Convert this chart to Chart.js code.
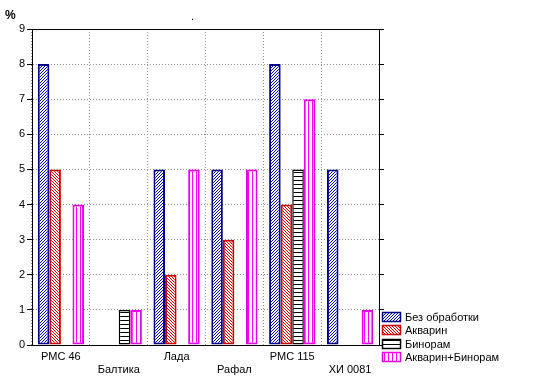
<!DOCTYPE html>
<html><head><meta charset="utf-8">
<script src="https://cdn.jsdelivr.net/npm/chart.js@4/dist/chart.umd.min.js"></script>
<style>html,body{margin:0;padding:0;background:#fff}#w{width:546px;height:383px}</style>
</head><body><div id="w"><canvas id="c"></canvas></div>
<script>
const categories = ['РМС 46', 'Балтика', 'Лада', 'Рафал', 'РМС 115', 'ХИ 0081'];
const seriesNames = ['Без обработки', 'Акварин', 'Бинорам', 'Акварин+Бинорам'];
const bezObrabotki = [8, 0, 5, 5, 8, 5];
const akvarin = [5, 0, 2, 3, 4, 0];
const binoram = [0, 1, 0, 0, 5, 0];
const akvarinBinoram = [4, 1, 5, 5, 7, 1];
const yTicks = [0, 1, 2, 3, 4, 5, 6, 7, 8, 9];
const yUnit = '%';

function pattern(kind, color) {
  const s = (kind === 'fwd' || kind === 'back') ? 3 : 4;
  const c = document.createElement('canvas');
  c.width = s; c.height = s;
  const g = c.getContext('2d');
  g.fillStyle = '#fff'; g.fillRect(0, 0, s, s);
  g.fillStyle = color;
  for (let i = 0; i < s; i++) {
    if (kind === 'fwd') g.fillRect(i, s - 1 - i, 1, 1);
    if (kind === 'back') g.fillRect(i, i, 1, 1);
  }
  if (kind === 'h') g.fillRect(0, 0, s, 1);
  if (kind === 'v') g.fillRect(0, 0, 1, s);
  return g.createPattern(c, 'repeat');
}

const styles = [
  { fill: pattern('fwd', '#0000c0'), border: '#00008c', bw: 2 },
  { fill: pattern('back', '#e00000'), border: '#d00000', bw: 2 },
  { fill: pattern('h', '#000000'), border: '#000000', bw: 1.5 },
  { fill: pattern('v', '#ff00ff'), border: '#e800e8', bw: 2 }
];
const values = [bezObrabotki, akvarin, binoram, akvarinBinoram];

const datasets = seriesNames.map((n, i) => ({
  label: n,
  data: values[i],
  backgroundColor: styles[i].fill,
  borderColor: styles[i].border,
  borderWidth: styles[i].bw,
  borderSkipped: false,
  barPercentage: 1,
  categoryPercentage: 0.8
}));

const FONT = 'Liberation Sans, Arial, sans-serif';

const extras = {
  id: 'extras',
  afterDraw(chart) {
    const { ctx, chartArea: a } = chart;
    ctx.save();
    ctx.strokeStyle = '#000';
    ctx.lineWidth = 1;
    ctx.strokeRect(Math.round(a.left) + 0.5, Math.round(a.top) + 0.5, Math.round(a.right - a.left), Math.round(a.bottom - a.top));
    ctx.fillStyle = '#000';
    ctx.font = 'bold 12px ' + FONT;
    ctx.textBaseline = 'middle';
    ctx.fillText(yUnit, 5, 16);
    ctx.font = '11px ' + FONT;
    ctx.fillText('.', 191, 17);
    const lx = 382, ly0 = 312, step = 13.3;
    seriesNames.forEach((n, i) => {
      const y = Math.round(ly0 + i * step);
      ctx.fillStyle = styles[i].fill;
      ctx.fillRect(lx, y, 19, 10);
      ctx.strokeStyle = styles[i].border;
      ctx.lineWidth = 1.5;
      ctx.strokeRect(lx + 0.5, y + 0.5, 18, 9);
      ctx.fillStyle = '#000';
      ctx.font = '11px ' + FONT;
      ctx.textBaseline = 'middle';
      ctx.fillText(n, 405, y + 5.5);
    });
    ctx.restore();
  }
};

new Chart(document.getElementById('c'), {
  type: 'bar',
  data: { labels: categories, datasets },
  options: {
    responsive: true,
    maintainAspectRatio: false,
    animation: false,
    devicePixelRatio: 1,
    layout: { padding: { top: 29, left: 0, right: 0, bottom: 0 } },
    plugins: { legend: { display: false }, tooltip: { enabled: false } },
    scales: {
      x: {
        grid: { display: true, offset: true, drawTicks: false, color: '#909090', lineWidth: 1 },
        border: { display: true, color: '#000', dash: [1, 2] },
        ticks: {
          autoSkip: false, maxRotation: 0, minRotation: 0, padding: 5,
          color: '#000', font: { family: FONT, size: 11 },
          callback: (v, i) => (i % 2 === 1 ? ['', categories[i]] : [categories[i]])
        },
        afterFit(ax) { ax.height = 38; }
      },
      y: {
        min: 0, max: 9,
        afterBuildTicks(ax) { ax.ticks = yTicks.map(v => ({ value: v })); },
        grid: { color: '#909090', tickColor: '#000', tickLength: 5, drawTicks: true },
        border: { display: true, color: '#000', dash: [1, 2] },
        ticks: { color: '#000', padding: 2, font: { family: FONT, size: 11 } },
        afterFit(ax) { ax.width = 32; }
      },
      y2: {
        position: 'right', min: 0, max: 9,
        afterBuildTicks(ax) { ax.ticks = yTicks.map(v => ({ value: v })); },
        grid: { drawOnChartArea: false, tickColor: '#000', tickLength: 5, drawTicks: true },
        border: { display: true, color: '#000' },
        ticks: { display: false },
        afterFit(ax) { ax.width = 167; }
      }
    }
  },
  plugins: [extras]
});
</script>
</body></html>
